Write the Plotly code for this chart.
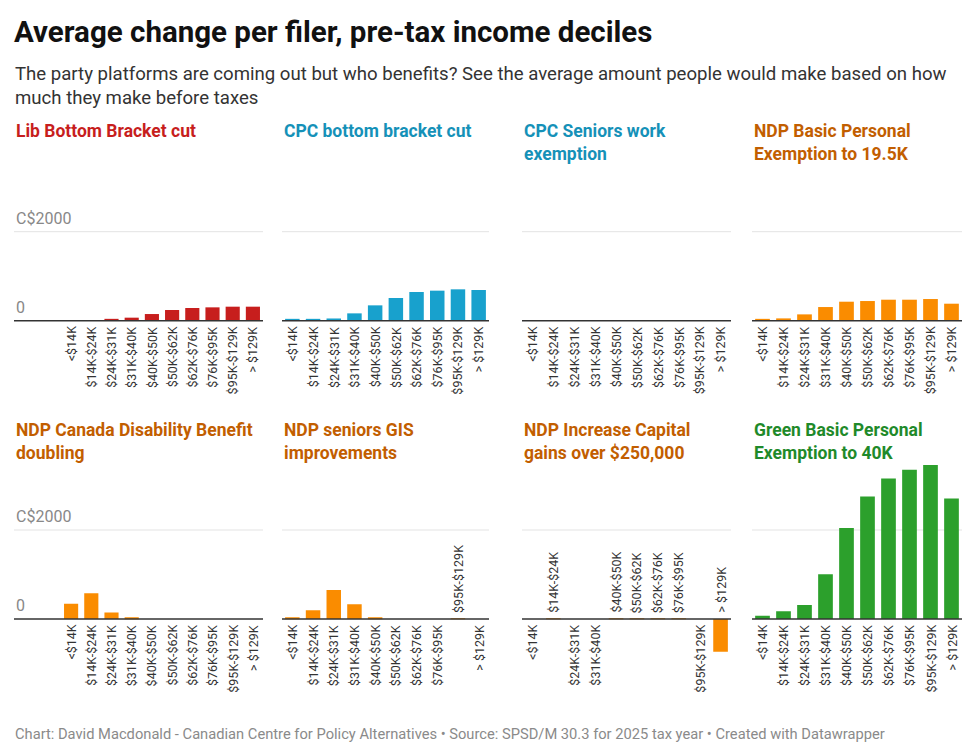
import plotly.graph_objects as go
from plotly.subplots import make_subplots

W, H = 975, 756

deciles = ['<$14K', '$14K-$24K', '$24K-$31K', '$31K-$40K', '$40K-$50K',
           '$50K-$62K', '$62K-$76K', '$76K-$95K', '$95K-$129K', '> $129K']

titles = ['Lib Bottom Bracket cut', 'CPC bottom bracket cut',
          'CPC Seniors work<br>exemption', 'NDP Basic Personal<br>Exemption to 19.5K',
          'NDP Canada Disability Benefit<br>doubling', 'NDP seniors GIS<br>improvements',
          'NDP Increase Capital<br>gains over $250,000', 'Green Basic Personal<br>Exemption to 40K']

lib_bottom = [0, 0, 30, 68, 150, 240, 285, 300, 315, 315]
cpc_bottom = [30, 30, 50, 165, 345, 510, 645, 675, 705, 690]
cpc_seniors = [0, 0, 0, 0, 0, 0, 0, 0, 0, 0]
ndp_bpe = [30, 52, 142, 307, 427, 442, 472, 472, 487, 382]
ndp_cdb = [340, 580, 145, 40, 0, 0, 0, 0, 0, 0]
ndp_gis = [30, 195, 650, 330, 40, 0, 0, 0, -1, 0]
ndp_capgains = [0, -1, 0, 0, -1, -1, -1, -1, 0, -735]
green_bpe = [75, 173, 316, 1008, 2045, 2752, 3158, 3353, 3459, 2707]

series = [lib_bottom, cpc_bottom, cpc_seniors, ndp_bpe,
          ndp_cdb, ndp_gis, ndp_capgains, green_bpe]
bar_colors = ['#c71e1d', '#18a1cd', '#18a1cd', '#fa8c00',
              '#fa8c00', '#fa8c00', '#fa8c00', '#2ca02c']
title_colors = ['#c71e1d', '#1591b8', '#1591b8', '#c25e00',
                '#c25e00', '#c25e00', '#c25e00', '#1f8a2a']

# pixel layout (page has an 8px body offset)
OFF = 8
col_px = [(61, 263), (282, 489), (522, 731), (752, 962)]
grid_left = [14, 282, 522, 752]
zero_px = [320.7, 619]
px_per_unit = 89 / 2000
y_lo, y_hi = -770, 3480

def py(p):
    return 1 - (p - OFF) / H

def px(p):
    return (p - OFF) / W

fig = make_subplots(rows=2, cols=4)
for i, vals in enumerate(series):
    r, c = i // 4, i % 4
    fig.add_trace(go.Bar(x=list(range(10)), y=vals, marker_color=bar_colors[i],
                         marker_line_width=0, showlegend=False,
                         hovertext=deciles),
                  row=r + 1, col=c + 1)

annotations = []
shapes = []
for i, vals in enumerate(series):
    r, c = i // 4, i % 4
    n = i + 1
    xa = 'xaxis' if n == 1 else 'xaxis%d' % n
    ya = 'yaxis' if n == 1 else 'yaxis%d' % n
    z = zero_px[r]
    top = z - y_hi * px_per_unit
    bot = z - y_lo * px_per_unit
    fig.layout[xa].update(domain=[px(col_px[c][0]), px(col_px[c][1])],
                          range=[-0.5, 9.5], visible=False)
    fig.layout[ya].update(domain=[py(bot), py(top)], range=[y_lo, y_hi],
                          visible=False)
    xref = 'x' if n == 1 else 'x%d' % n
    yref = 'y' if n == 1 else 'y%d' % n
    # gridline at 2000 and zero line
    shapes.append(dict(type='line', xref='paper', yref=yref,
                       x0=px(grid_left[c]), x1=px(col_px[c][1]), y0=2000, y1=2000,
                       line=dict(color='#e3e3e3', width=1), layer='below'))
    shapes.append(dict(type='line', xref='paper', yref=yref,
                       x0=px(grid_left[c]), x1=px(col_px[c][1]), y0=0, y1=0,
                       line=dict(color='#333333', width=1.5), layer='above'))
    # category labels
    for k, v in enumerate(vals):
        annotations.append(dict(x=k, y=0, xref=xref, yref=yref, text=deciles[k],
                                textangle=-90, showarrow=False,
                                yanchor='bottom' if v < 0 else 'top',
                                yshift=4 if v < 0 else -4,
                                font=dict(size=12.5, color='#333333', family='Roboto')))
    # panel title
    title_y = 130 if r == 0 else 429
    annotations.append(dict(x=px(grid_left[c]), y=py(title_y - 11), xref='paper', yref='paper',
                            text='<b>' + titles[i] + '</b>', showarrow=False,
                            xanchor='left', yanchor='top', align='left',
                            font=dict(size=17.5, color=title_colors[i], family='Roboto')))
    if c == 0:
        for val, lab in [(2000, 'C$2000'), (0, '0')]:
            annotations.append(dict(x=px(14), y=val, xref='paper', yref=yref, text=lab,
                                    showarrow=False, xanchor='left', yanchor='bottom',
                                    yshift=2,
                                    font=dict(size=16, color='#888888', family='Roboto')))

annotations.append(dict(x=px(12), y=py(13), xref='paper', yref='paper',
                        text='<b>Average change per filer, pre-tax income deciles</b>',
                        showarrow=False, xanchor='left', yanchor='top',
                        font=dict(size=29.5, color='#111111', family='Roboto')))
annotations.append(dict(x=px(13), y=py(61), xref='paper', yref='paper',
                        text='The party platforms are coming out but who benefits? See the average amount people would make based on how<br>much they make before taxes',
                        showarrow=False, xanchor='left', yanchor='top', align='left',
                        font=dict(size=18.6, color='#333333', family='Roboto')))
annotations.append(dict(x=px(13), y=py(734), xref='paper', yref='paper',
                        text='Chart: David Macdonald - Canadian Centre for Policy Alternatives • Source: SPSD/M 30.3 for 2025 tax year • Created with Datawrapper',
                        showarrow=False, xanchor='left', yanchor='middle',
                        font=dict(size=14.7, color='#8a8a8a', family='Roboto')))

fig.update_layout(width=W, height=H, margin=dict(l=0, r=0, t=0, b=0),
                  paper_bgcolor='white', plot_bgcolor='white', bargap=0.3,
                  annotations=annotations, shapes=shapes,
                  font=dict(family='Roboto'))

fig.write_html("out.html")
